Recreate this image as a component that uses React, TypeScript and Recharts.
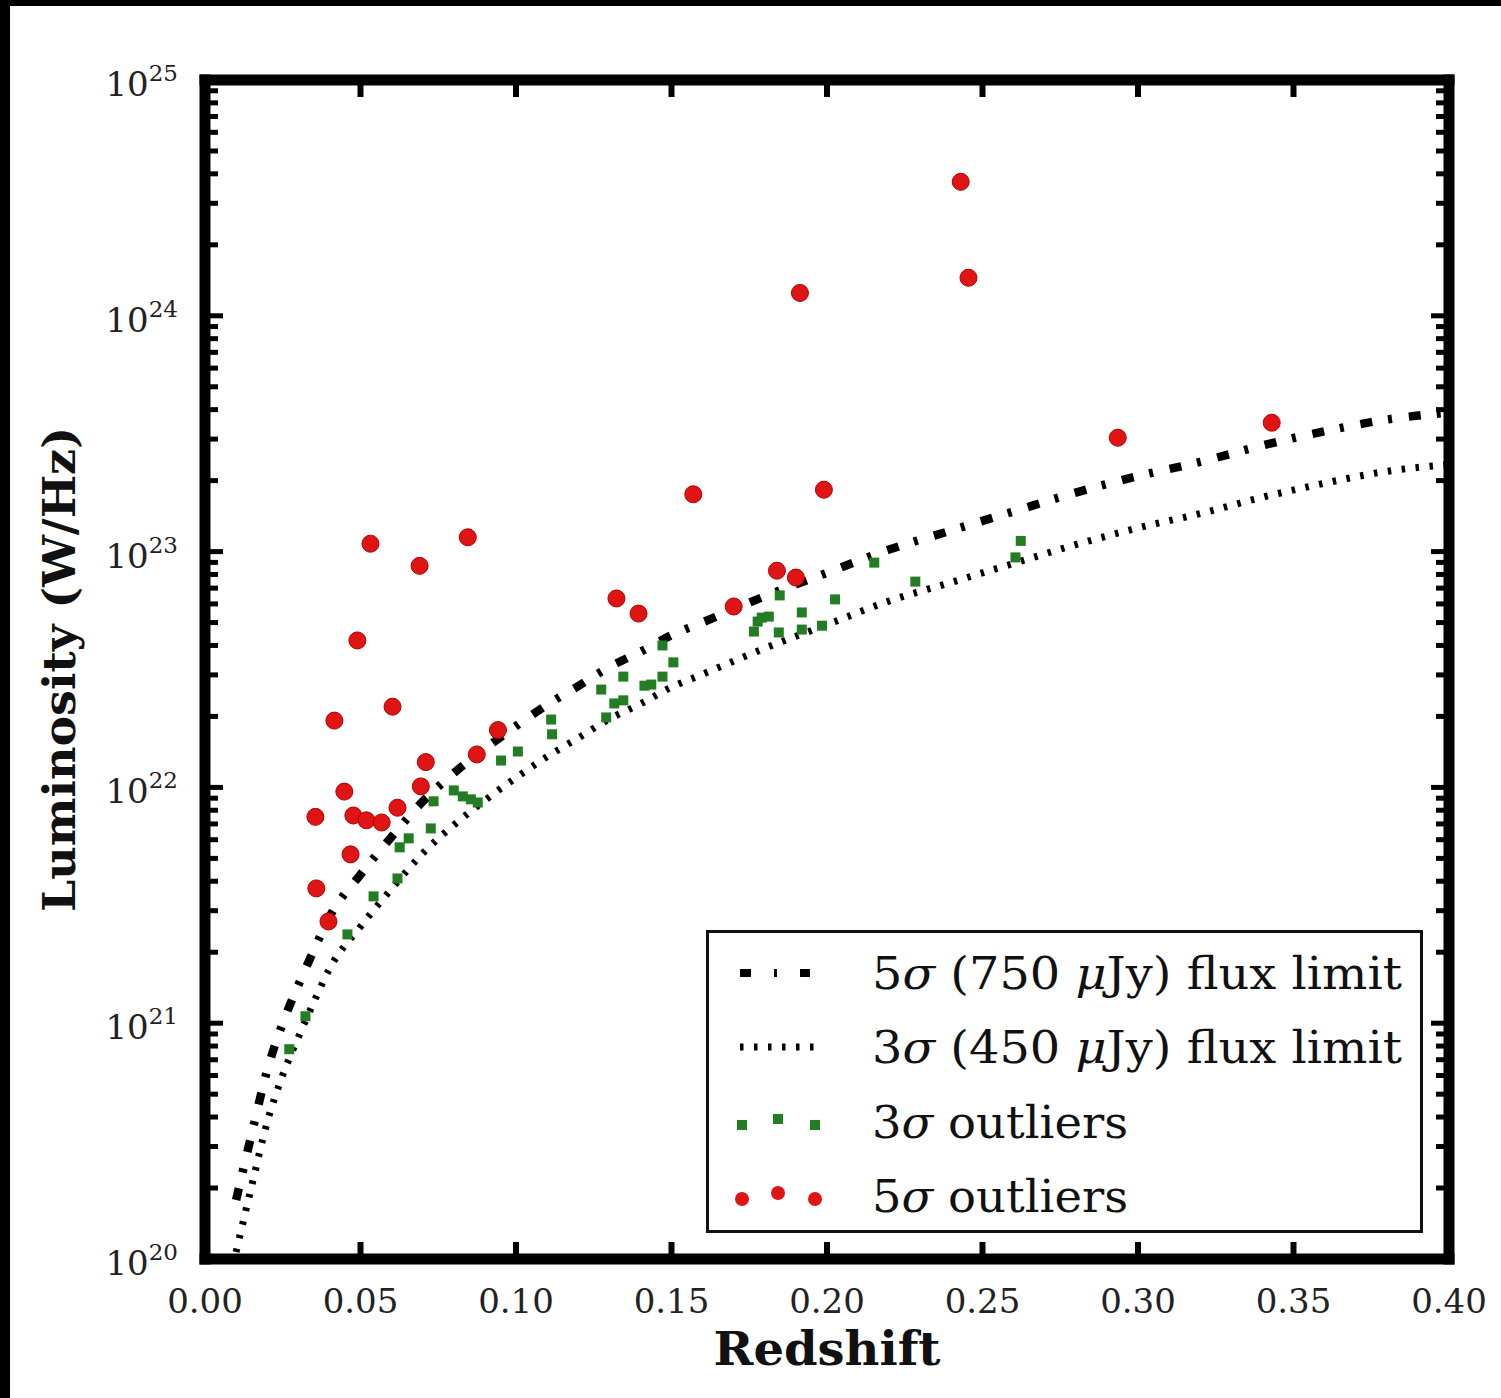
import React from 'react';
import { ComposedChart, Line, Scatter, XAxis, YAxis, Legend } from 'recharts';

// flux-limit curves, sampled along redshift
const curveZ = [0.01, 0.015, 0.02, 0.025, 0.03, 0.035, 0.04, 0.05, 0.06, 0.07, 0.08, 0.09, 0.1, 0.11, 0.12, 0.13, 0.14, 0.15, 0.16, 0.18, 0.2, 0.22, 0.24, 0.26, 0.28, 0.3, 0.32, 0.34, 0.36, 0.38, 0.4];
const limit5L = [1.78e20, 3.39e20, 6.31e20, 1.0e21, 1.45e21, 2.04e21, 2.82e21, 4.27e21, 6.17e21, 8.71e21, 1.15e22, 1.46e22, 1.82e22, 2.24e22, 2.69e22, 3.24e22, 3.76e22, 4.42e22, 5.01e22, 6.46e22, 8.13e22, 1.02e23, 1.23e23, 1.48e23, 1.78e23, 2.09e23, 2.4e23, 2.82e23, 3.24e23, 3.63e23, 3.89e23];
const limit3L = [1.07e20, 2.04e20, 3.8e20, 6.03e20, 8.71e20, 1.23e21, 1.7e21, 2.57e21, 3.72e21, 5.25e21, 6.92e21, 8.81e21, 1.1e22, 1.35e22, 1.62e22, 1.95e22, 2.26e22, 2.66e22, 3.02e22, 3.89e22, 4.9e22, 6.17e22, 7.41e22, 8.91e22, 1.07e23, 1.26e23, 1.45e23, 1.7e23, 1.95e23, 2.19e23, 2.34e23];

// 5 sigma outliers
const redZ = [0.243, 0.2455, 0.1913, 0.2935, 0.343, 0.157, 0.199, 0.0532, 0.0845, 0.069, 0.049, 0.0416, 0.0603, 0.1323, 0.1394, 0.1839, 0.19, 0.17, 0.0942, 0.0874, 0.071, 0.0694, 0.0619, 0.0355, 0.0448, 0.0477, 0.0519, 0.0568, 0.0468, 0.0358, 0.0397];
const redL = [3.7e24, 1.45e24, 1.25e24, 3.04e23, 3.52e23, 1.75e23, 1.83e23, 1.08e23, 1.15e23, 8.7e22, 4.2e22, 1.92e22, 2.2e22, 6.33e22, 5.46e22, 8.3e22, 7.76e22, 5.85e22, 1.75e22, 1.38e22, 1.28e22, 1.01e22, 8.2e21, 7.5e21, 9.6e21, 7.6e21, 7.25e21, 7.1e21, 5.2e21, 3.73e21, 2.7e21];

// 3 sigma outliers
const greenZ = [0.0271, 0.0323, 0.0458, 0.0542, 0.0619, 0.0626, 0.0655, 0.0726, 0.0735, 0.08, 0.0829, 0.0855, 0.0877, 0.0952, 0.1006, 0.1113, 0.1116, 0.129, 0.1316, 0.1345, 0.1274, 0.1345, 0.1413, 0.1435, 0.1471, 0.1471, 0.1506, 0.1765, 0.1777, 0.179, 0.1813, 0.1845, 0.1848, 0.1919, 0.1919, 0.1984, 0.2026, 0.2152, 0.2284, 0.2606, 0.2623];
const greenL = [7.76e20, 1.07e21, 2.38e21, 3.45e21, 4.11e21, 5.57e21, 6.08e21, 6.7e21, 8.73e21, 9.71e21, 9.16e21, 8.9e21, 8.63e21, 1.3e22, 1.42e22, 1.94e22, 1.68e22, 1.98e22, 2.27e22, 2.34e22, 2.6e22, 2.95e22, 2.7e22, 2.73e22, 2.95e22, 4.0e22, 3.39e22, 4.58e22, 5.05e22, 5.25e22, 5.3e22, 4.54e22, 6.52e22, 5.52e22, 4.67e22, 4.85e22, 6.27e22, 8.98e22, 7.46e22, 9.45e22, 1.11e23];

const xTicks = [0, 0.05, 0.1, 0.15, 0.2, 0.25, 0.3, 0.35, 0.4];
const decades = [20, 21, 22, 23, 24, 25];
const minorSteps = [1, 2, 3, 4, 5, 6, 7, 8, 9];

const yTicks: number[] = [];
decades.forEach((d) => minorSteps.forEach((m) => { if (d < 25 || m === 1) yTicks.push(m * Math.pow(10, d)); }));

const limit5 = curveZ.map((z, i) => ({ z, L: limit5L[i] }));
const limit3 = curveZ.map((z, i) => ({ z, L: limit3L[i] }));
const red = redZ.map((z, i) => ({ z, L: redL[i] }));
const green = greenZ.map((z, i) => ({ z, L: greenL[i] }));

const SERIF = '"DejaVu Serif", "Liberation Serif", serif';
const RED = '#e01414';
const GREEN = '#237d23';
const DASHDOT = '12 16 4 17';
const DOTTED = '3.5 10.5';

const isMajor = (v: number) => Math.abs(Math.log10(v) - Math.round(Math.log10(v))) < 1e-6;

const LeftTick = ({ x, y, payload }: any) => {
  const major = isMajor(payload.value);
  const exp = Math.round(Math.log10(payload.value));
  return (
    <g>
      <line x1={x} x2={x + (major ? 18 : 13)} y1={y} y2={y} stroke="#000" strokeWidth={5} />
      {major && (
        <text x={x - 27} y={y + 16} textAnchor="end" fontFamily={SERIF} fontSize={34} fill="#222">
          <tspan>10</tspan>
          <tspan dy={-15} fontSize={23}>{exp}</tspan>
        </text>
      )}
    </g>
  );
};

const RightTick = ({ x, y, payload }: any) => {
  const major = isMajor(payload.value);
  return <line x1={x} x2={x - (major ? 18 : 13)} y1={y} y2={y} stroke="#000" strokeWidth={5} />;
};

const BottomTick = ({ x, y, payload }: any) => (
  <g>
    <line x1={x} x2={x} y1={y} y2={y - 17} stroke="#000" strokeWidth={6} />
    <text x={x} y={y + 54} textAnchor="middle" fontFamily={SERIF} fontSize={34} fill="#222">
      {payload.value.toFixed(2)}
    </text>
  </g>
);

const TopTick = ({ x, y }: any) => <line x1={x} x2={x} y1={y} y2={y + 17} stroke="#000" strokeWidth={6} />;

const Sym = ({ kind, cy }: { kind: string; cy: number }) => {
  if (kind === 'dashdot') return <line x1={34} x2={104} y1={cy} y2={cy} stroke="#000" strokeWidth={8} strokeDasharray="11 23 3 23" />;
  if (kind === 'dotted') return <line x1={34} x2={110} y1={cy} y2={cy} stroke="#000" strokeWidth={7} strokeDasharray={DOTTED} />;
  const xs = [36, 72, 109];
  const dy = [3, -3, 3];
  if (kind === 'square')
    return <g>{xs.map((x, i) => <rect key={i} x={x - 5} y={cy + dy[i] - 5} width={10} height={10} fill={GREEN} />)}</g>;
  return <g>{xs.map((x, i) => <circle key={i} cx={x} cy={cy + dy[i]} r={7} fill={RED} />)}</g>;
};

const legendRows = [
  { kind: 'dashdot', cy: 43, len: 530, parts: ['5', 'σ', ' (750 ', 'μ', 'Jy) flux limit'] },
  { kind: 'dotted', cy: 117, len: 530, parts: ['3', 'σ', ' (450 ', 'μ', 'Jy) flux limit'] },
  { kind: 'square', cy: 192, len: 256, parts: ['3', 'σ', ' outliers'] },
  { kind: 'circle', cy: 266, len: 256, parts: ['5', 'σ', ' outliers'] },
];

const LegendBox = () => (
  <svg width={717} height={303} style={{ display: 'block' }}>
    <rect x={1.5} y={1.5} width={714} height={300} fill="#fff" stroke="#111" strokeWidth={3} />
    {legendRows.map((r, i) => (
      <g key={i}>
        <Sym kind={r.kind} cy={r.cy} />
        <text
          x={166}
          y={r.cy + 16}
          fontFamily={SERIF}
          fontSize={45}
          fill="#111"
          xmlSpace="preserve"
          textLength={r.len}
          lengthAdjust="spacingAndGlyphs"
        >
          {r.parts.map((p, j) => (
            <tspan key={j} fontStyle={j % 2 === 1 ? 'italic' : 'normal'}>{p}</tspan>
          ))}
        </text>
      </g>
    ))}
  </svg>
);

const axisLine = { stroke: '#000', strokeWidth: 11, strokeLinecap: 'square' as const };

export default function App() {
  return (
    <div style={{ position: 'absolute', left: 0, top: 0, width: 1501, height: 1398, background: '#000' }}>
      <div style={{ position: 'absolute', left: 10, top: 6, width: 1491, height: 1392, background: '#fff' }} />
      <div style={{ position: 'absolute', left: 0, top: 0 }}>
        <ComposedChart width={1501} height={1398} margin={{ top: 79, right: 51, bottom: 138, left: 204 }}>
          <XAxis
            dataKey="z"
            type="number"
            domain={[0, 0.4]}
            ticks={xTicks}
            interval={0}
            allowDataOverflow
            height={1}
            tickSize={0}
            tickMargin={0}
            tickLine={false}
            axisLine={axisLine}
            tick={<BottomTick />}
            label={(p: any) => (
              <text
                x={p.viewBox.x + p.viewBox.width / 2}
                y={1365}
                textAnchor="middle"
                fontFamily={SERIF}
                fontWeight="bold"
                fontSize={46}
                fill="#111"
                textLength={227}
                lengthAdjust="spacingAndGlyphs"
              >
                Redshift
              </text>
            )}
          />
          <XAxis
            xAxisId="top"
            orientation="top"
            dataKey="z"
            type="number"
            domain={[0, 0.4]}
            ticks={xTicks}
            interval={0}
            allowDataOverflow
            height={1}
            tickSize={0}
            tickMargin={0}
            tickLine={false}
            axisLine={axisLine}
            tick={<TopTick />}
          />
          <YAxis
            dataKey="L"
            scale="log"
            domain={[1e20, 1e25]}
            ticks={yTicks}
            interval={0}
            allowDataOverflow
            width={1}
            tickSize={0}
            tickMargin={0}
            tickLine={false}
            axisLine={axisLine}
            tick={<LeftTick />}
            label={(p: any) => {
              const cx = 75;
              const cy = p.viewBox.y + p.viewBox.height / 2;
              return (
                <text
                  x={cx}
                  y={cy}
                  transform={`rotate(-90 ${cx} ${cy})`}
                  textAnchor="middle"
                  fontFamily={SERIF}
                  fontWeight="bold"
                  fontSize={44}
                  fill="#111"
                  textLength={485}
                  lengthAdjust="spacingAndGlyphs"
                >
                  Luminosity (W/Hz)
                </text>
              );
            }}
          />
          <YAxis
            yAxisId="right"
            orientation="right"
            dataKey="L"
            scale="log"
            domain={[1e20, 1e25]}
            ticks={yTicks}
            interval={0}
            allowDataOverflow
            width={1}
            tickSize={0}
            tickMargin={0}
            tickLine={false}
            axisLine={axisLine}
            tick={<RightTick />}
          />
          <Scatter
            data={green}
            dataKey="L"
            isAnimationActive={false}
            shape={(p: any) => <rect x={p.cx - 5} y={p.cy - 5} width={10} height={10} fill={GREEN} />}
          />
          <Scatter
            data={red}
            dataKey="L"
            isAnimationActive={false}
            shape={(p: any) => <circle cx={p.cx} cy={p.cy} r={8.5} fill={RED} stroke="#b00000" strokeWidth={1} />}
          />
          <Line
            data={limit5}
            dataKey="L"
            type="monotone"
            stroke="#000"
            strokeWidth={8.5}
            strokeDasharray={DASHDOT}
            dot={false}
            activeDot={false}
            isAnimationActive={false}
          />
          <Line
            data={limit3}
            dataKey="L"
            type="monotone"
            stroke="#000"
            strokeWidth={7}
            strokeDasharray={DOTTED}
            dot={false}
            activeDot={false}
            isAnimationActive={false}
          />
          <Legend
            layout="horizontal"
            align="center"
            verticalAlign="middle"
            content={() => <LegendBox />}
            wrapperStyle={{ left: 706, top: 930, width: 717, height: 303 }}
          />
        </ComposedChart>
      </div>
    </div>
  );
}
